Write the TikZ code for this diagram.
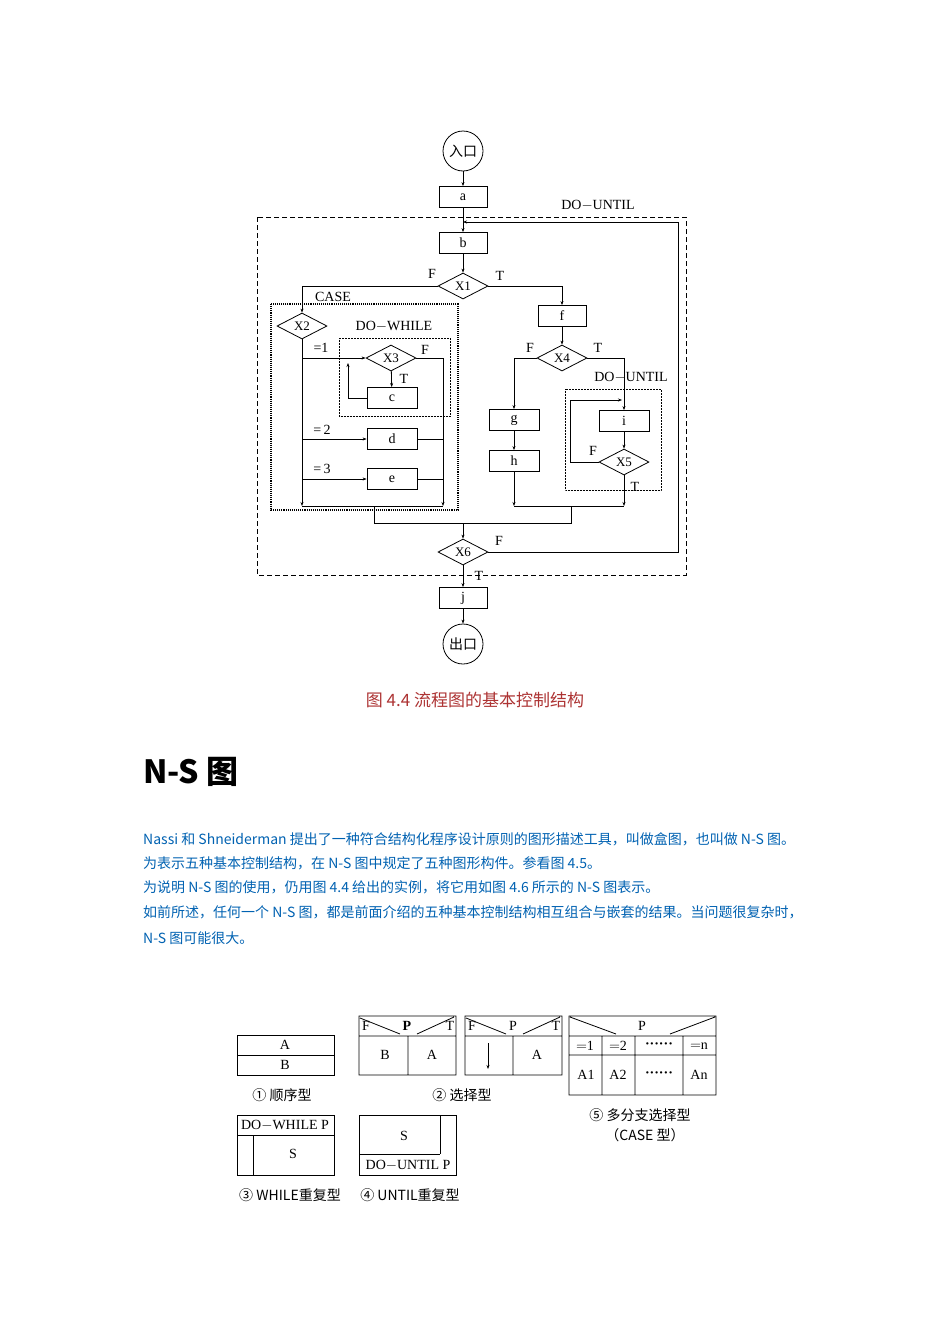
\documentclass[tikz,border=0pt]{standalone}
\usepackage{fontspec}
\setmainfont{Liberation Serif}
\newfontfamily\cjk{Noto Sans CJK SC}
\usetikzlibrary{shapes.geometric,arrows.meta}
\tikzset{
 lw/.style={line width=0.8pt},
 box/.style={draw,lw,minimum width=48pt,minimum height=21pt,inner sep=0pt,font=\fontsize{14}{14}\selectfont},
 dia/.style={draw,lw,diamond,aspect=1.9,minimum width=50pt,minimum height=26pt,inner sep=0pt,font=\fontsize{13}{13}\selectfont},
 circ/.style={draw,lw,circle,minimum size=40pt,inner sep=0pt,font=\cjk\fontsize{14}{14}\selectfont},
 arr/.style={lw,-{Stealth[length=4pt,width=3pt]}},
 ln/.style={lw},
 lab/.style={font=\fontsize{14}{14}\selectfont,inner sep=0pt},
 para/.style={anchor=west,inner sep=0pt,text=blue!45!cyan!70!black,font=\cjk\fontsize{14}{14}\selectfont},
 ns/.style={font=\fontsize{14}{14}\selectfont,inner sep=0pt},
 nsc/.style={font=\cjk\fontsize{14}{14}\selectfont,inner sep=0pt}
}
\begin{document}
\begin{tikzpicture}[x=1pt,y=-1pt]
\useasboundingbox[fill=white] (0,0) rectangle (950,1344);
% nodes
\node[circ] (in) at (463,151) {入口};
\node[box] (a) at (463,197) {a};
\node[box] (b) at (463,243) {b};
\node[dia] (x1) at (463,286) {X1};
\node[dia] (x2) at (302,326) {X2};
\node[dia] (x3) at (391,358) {X3};
\node[box,minimum width=50pt] (c) at (392,398) {c};
\node[box,minimum width=50pt] (d) at (392,439) {d};
\node[box,minimum width=50pt] (e) at (392,479) {e};
\node[box] (f) at (562,316) {f};
\node[dia] (x4) at (562,358) {X4};
\node[box,minimum width=50pt] (g) at (514,420) {g};
\node[box,minimum width=50pt] (h) at (514,461) {h};
\node[box,minimum width=50pt] (i) at (624,421) {i};
\node[dia] (x5) at (624,462) {X5};
\node[dia] (x6) at (463,552) {X6};
\node[box] (j) at (463,598) {j};
\node[circ] (out) at (463,644) {出口};
% frames
\draw[lw,dashed,dash pattern=on 5pt off 3pt] (257,217) rectangle (686,575);
\draw[line width=1.1pt,densely dotted] (271,304) rectangle (458,510);
\draw[line width=0.5pt,densely dotted] (339,338) rectangle (450,416);
\draw[line width=0.5pt,densely dotted] (565,389) rectangle (661,490);
% labels
\node[lab] at (598,205) {DO$-$UNTIL};
\node[lab] at (333,297) {CASE};
\node[lab] at (394,326) {DO$-$WHILE};
\node[lab] at (631,377) {DO$-$UNTIL};
\node[lab] at (432,274) {F};
\node[lab] at (500,276) {T};
\node[lab] at (321,348) {=1};
\node[lab] at (425,350) {F};
\node[lab] at (404,379) {T};
\node[lab] at (322,430) {=\,2};
\node[lab] at (322,469) {=\,3};
\node[lab] at (530,348) {F};
\node[lab] at (598,348) {T};
\node[lab] at (593,451) {F};
\node[lab] at (635,487) {T};
\node[lab] at (499,541) {F};
\node[lab] at (479,576) {T};
% coordinates
\coordinate (loopin) at (463,222);
\coordinate (rt) at (678,222);
\coordinate (s1) at (302,358);
\coordinate (s2) at (302,439);
\coordinate (s3) at (302,479);
\coordinate (cb1) at (302,506);
\coordinate (cb2) at (443,506);
\coordinate (r2) at (443,439);
\coordinate (r3) at (443,479);
\coordinate (cl) at (348,363);
\coordinate (hb) at (514,506);
\coordinate (x5b) at (624,506);
\coordinate (l5a) at (570,400);
\coordinate (l5b) at (622,400);
\coordinate (m1) at (374,506);
\coordinate (m2) at (571,506);
\coordinate (m3) at (571,523);
\coordinate (m4) at (463,523);
% connectors
\draw[arr] (in) -- (a);
\draw[arr] (a) -- (b);
\draw[arr] (x6.east) -| (rt) -- (loopin);
\draw[arr] (b) -- (x1);
\draw[arr] (x1.west) -| (x2.north);
\draw[arr] (x1.east) -| (f.north);
\draw[arr] (x2.south) -- (cb1);
\draw[arr] (s1) -- (x3.west);
\draw[arr] (x3.east) -| (cb2);
\draw[arr] (x3) -- (c);
\draw[arr] (c.west) -| (cl);
\draw[arr] (s2) -- (d.west);
\draw[ln] (d.east) -- (r2);
\draw[arr] (s3) -- (e.west);
\draw[ln] (e.east) -- (r3);
\draw[ln] (cb1) -- (cb2);
\draw[arr] (f) -- (x4);
\draw[arr] (x4.west) -| (g.north);
\draw[arr] (g) -- (h);
\draw[arr] (h.south) -- (hb);
\draw[arr] (x4.east) -| (i.north);
\draw[arr] (i) -- (x5);
\draw[arr] (x5.west) -| (l5a) -- (l5b);
\draw[arr] (x5.south) -- (x5b);
\draw[ln] (hb) -- (x5b);
\draw[ln] (m1) |- (m3) -- (m2);
\draw[arr] (m4) -- (x6.north);
\draw[arr] (x6) -- (j);
\draw[arr] (j) -- (out);
% caption and text
\node[text=red!60!black!80,font=\cjk\fontsize{17}{17}\selectfont] (cap) at (475,700) {图 4.4 流程图的基本控制结构};
\node[anchor=west,inner sep=0pt,font=\cjk\bfseries\fontsize{32}{32}\selectfont] (hd) at (143,772) {N-S 图};
\node[para] (p1) at (143,839) {Nassi 和 Shneiderman 提出了一种符合结构化程序设计原则的图形描述工具，叫做盒图，也叫做 N-S 图。};
\node[para] (p2) at (143,863) {为表示五种基本控制结构，在 N-S 图中规定了五种图形构件。参看图 4.5。};
\node[para] (p3) at (143,887) {为说明 N-S 图的使用，仍用图 4.4 给出的实例，将它用如图 4.6 所示的 N-S 图表示。};
\node[para] (p4) at (143,912) {如前所述，任何一个 N-S 图，都是前面介绍的五种基本控制结构相互组合与嵌套的结果。当问题很复杂时，};
\node[para] (p5) at (143,938) {N-S 图可能很大。};
% N-S: sequence
\draw[lw] (237,1035) rectangle (334,1075) (237,1055) -- (334,1055);
\node[ns] at (285,1045) {A};
\node[ns] at (285,1065) {B};
\node[nsc] at (282,1095) {① 顺序型};
% selection 1
\draw[lw] (359,1016) rectangle (456,1075) (359,1036) -- (456,1036) (408,1036) -- (408,1075)
 (360,1018) -- (400,1034) (417,1034) -- (454,1017);
\node[ns] at (366,1026) {F};
\node[ns,font=\bfseries\fontsize{14}{14}\selectfont] at (407,1026) {P};
\node[ns] at (450,1026) {T};
\node[ns] at (385,1055) {B};
\node[ns] at (432,1055) {A};
% selection 2
\draw[lw] (465,1016) rectangle (562,1075) (465,1036) -- (562,1036) (513,1036) -- (513,1075)
 (466,1018) -- (506,1034) (523,1034) -- (560,1017);
\draw[arr] (488,1043) -- (488,1069);
\node[ns] at (472,1026) {F};
\node[ns] at (513,1026) {P};
\node[ns] at (556,1026) {T};
\node[ns] at (537,1055) {A};
\node[nsc] at (462,1095) {② 选择型};
% case
\draw[lw] (569,1016) rectangle (716,1095) (569,1036) -- (716,1036) (569,1055) -- (716,1055)
 (602,1036) -- (602,1095) (635,1036) -- (635,1095) (683,1036) -- (683,1095)
 (570,1017) -- (616,1034) (670,1034) -- (715,1017);
\node[ns] at (642,1026) {P};
\node[ns] at (585,1046) {$=$1};
\node[ns] at (618,1046) {$=$2};
\node[ns] at (659,1046) {\textbf{······}};
\node[ns] at (699,1046) {$=$n};
\node[ns] at (586,1075) {A1};
\node[ns] at (618,1075) {A2};
\node[ns] at (659,1075) {\textbf{······}};
\node[ns] at (699,1075) {An};
\node[nsc] at (640,1115) {⑤ 多分支选择型};
\node[nsc] at (645,1135) {（CASE 型）};
% while
\draw[lw] (237,1115) rectangle (334,1175) (237,1135) -- (334,1135) (253,1135) -- (253,1175);
\node[ns] at (285,1125) {DO$-$WHILE P};
\node[ns] at (293,1154) {S};
% until
\draw[lw] (359,1115) rectangle (456,1175) (359,1154) -- (440,1154) (440,1115) -- (440,1154);
\node[ns] at (404,1136) {S};
\node[ns] at (408,1165) {DO$-$UNTIL P};
\node[nsc] at (290,1195) {③ WHILE重复型};
\node[nsc] at (410,1195) {④ UNTIL重复型};
\end{tikzpicture}
\end{document}
